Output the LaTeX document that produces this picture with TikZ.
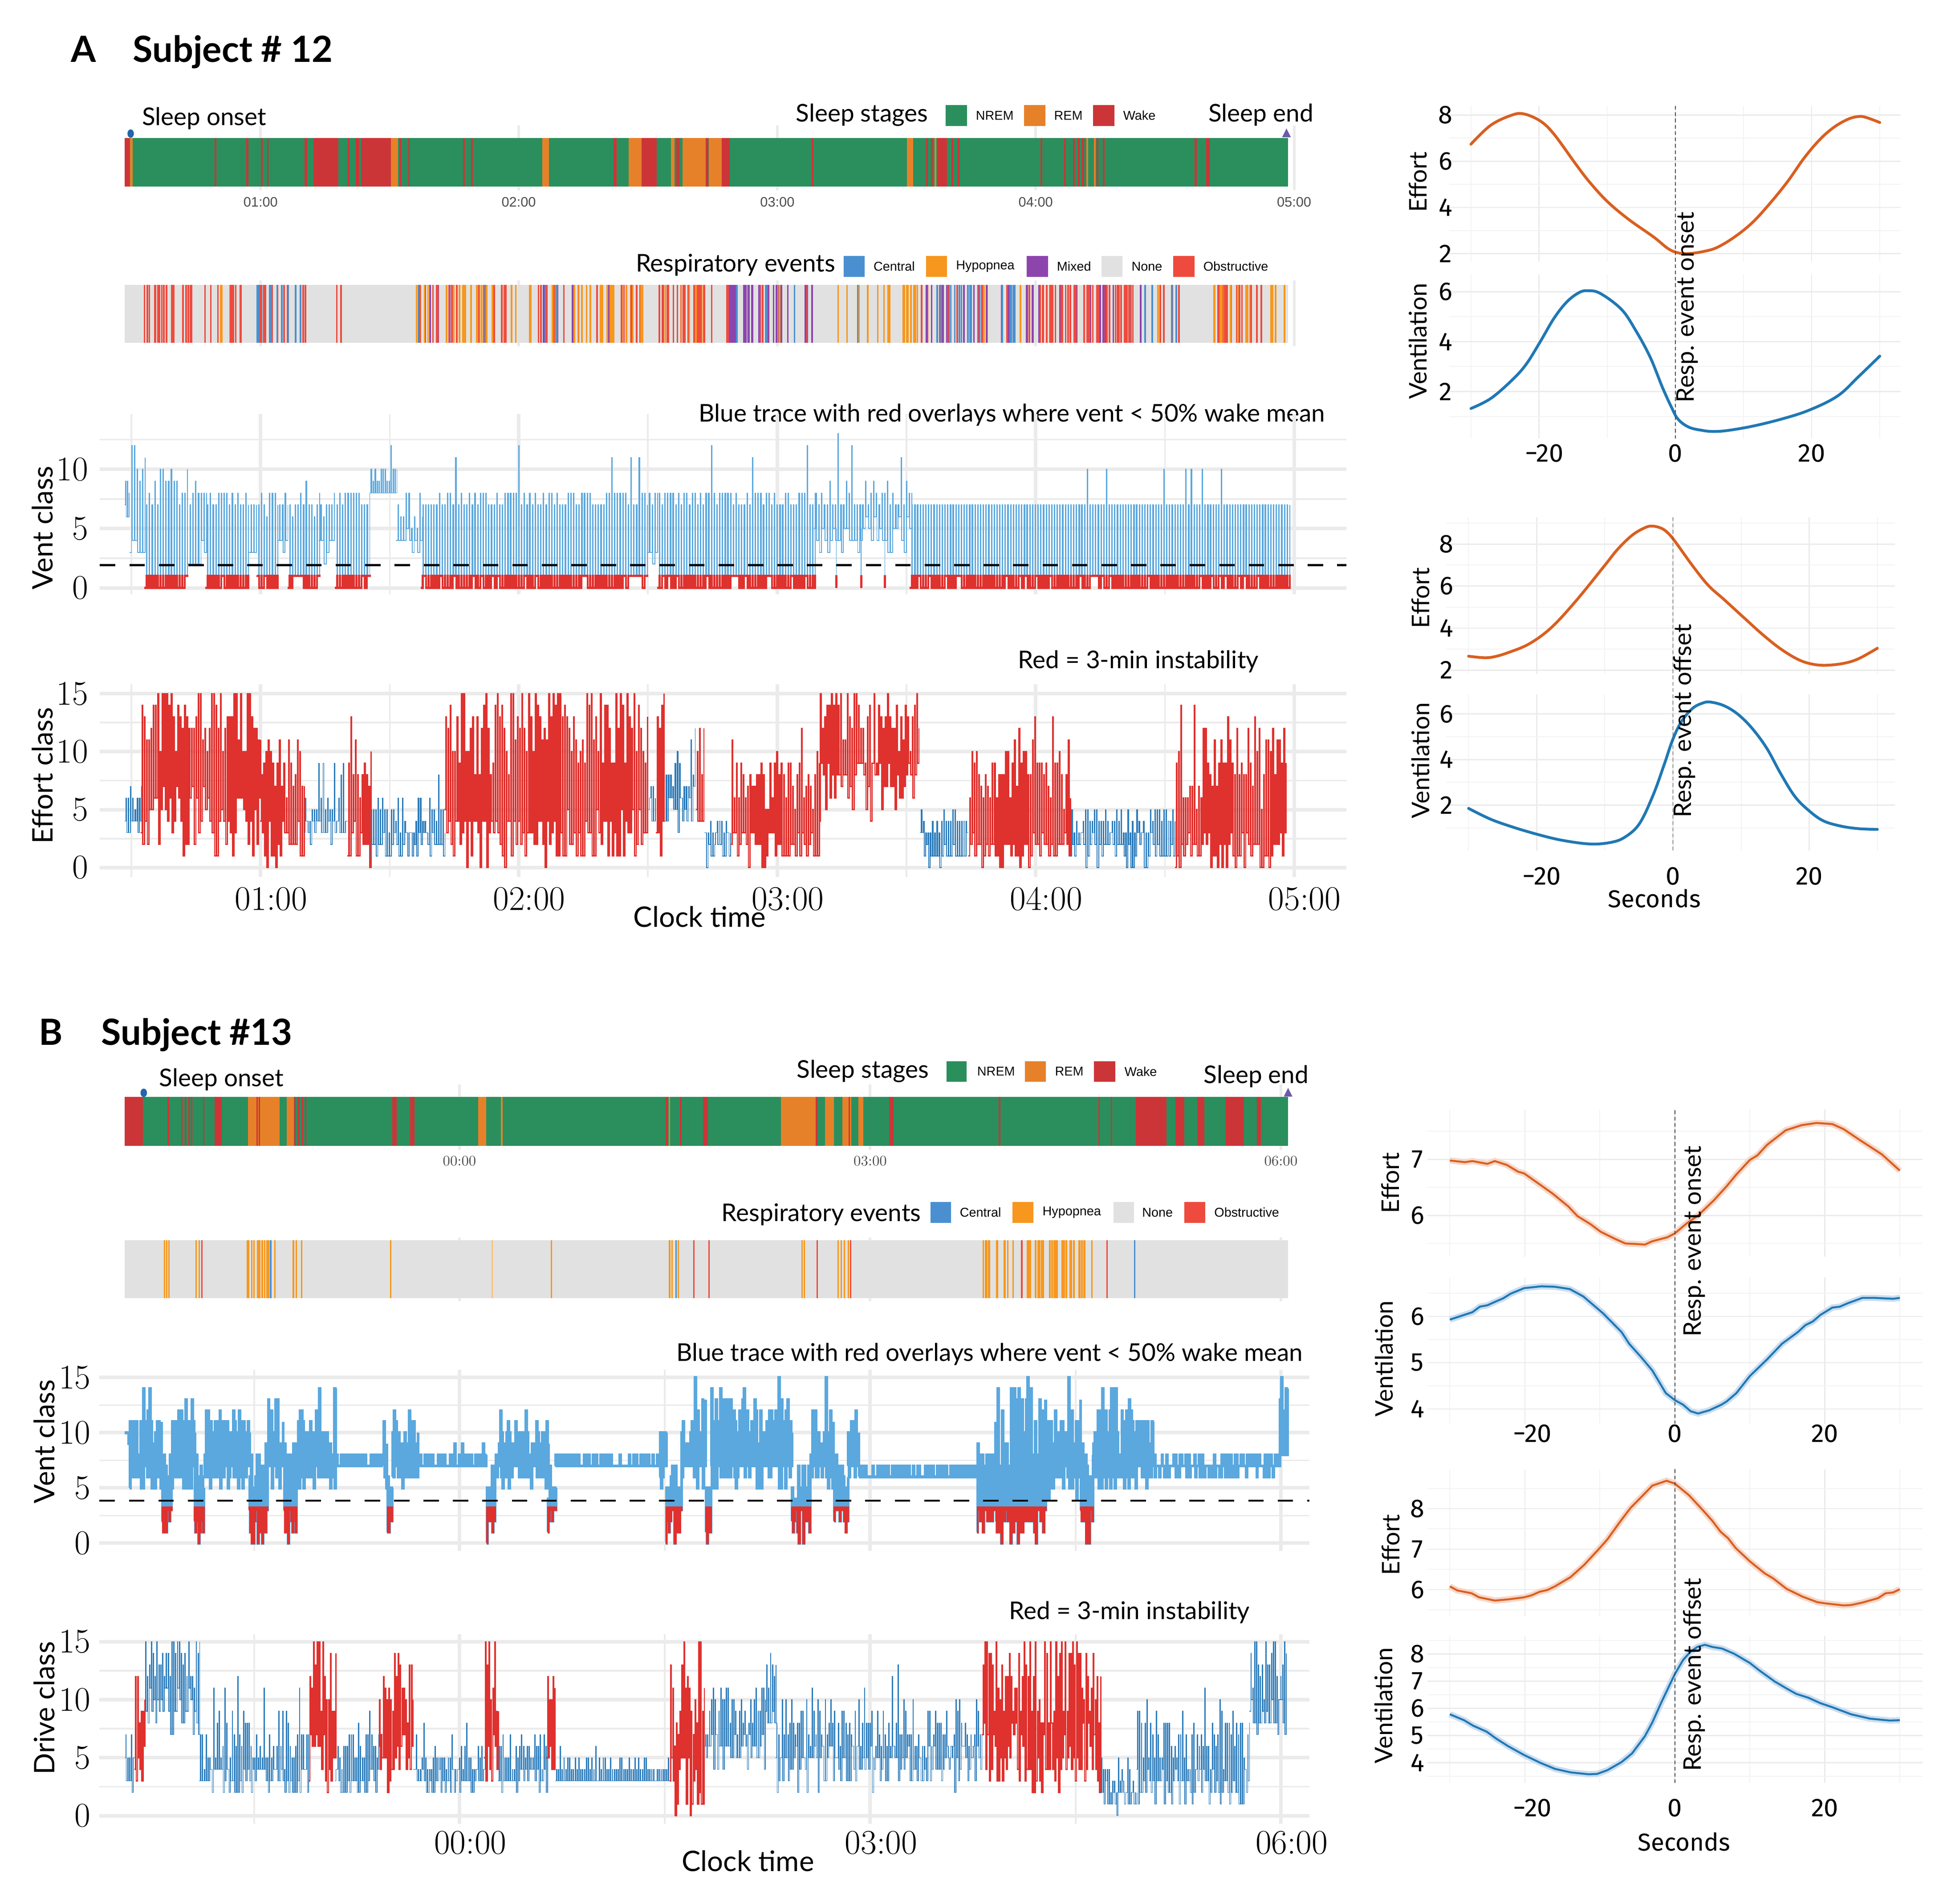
\documentclass[tikz,border=0pt]{standalone}
\usepackage{fontspec}
\newfontfamily\lato{Lato}
\newfontfamily\fira{Fira Sans}
\newfontfamily\libs{Liberation Sans}
\definecolor{nrem}{HTML}{2A8F5D}
\definecolor{rem}{HTML}{E6812A}
\definecolor{wake}{HTML}{CC3538}
\definecolor{cen}{HTML}{4A90D0}
\definecolor{hyp}{HTML}{F7971E}
\definecolor{mix}{HTML}{8E44AD}
\definecolor{nonec}{HTML}{E0E1E0}
\definecolor{obs}{HTML}{EE4B3E}
\definecolor{vblue}{HTML}{5AA8DE}
\definecolor{tblue}{HTML}{2B7BBA}
\definecolor{tred}{HTML}{DF312E}
\definecolor{corange}{HTML}{D95F20}
\definecolor{cblue}{HTML}{1F78B4}
\definecolor{ribo}{HTML}{F6D7C8}
\definecolor{ribb}{HTML}{CADDF0}
\definecolor{gridc}{HTML}{EBEBEB}
\definecolor{gridm}{HTML}{F3F3F3}
\definecolor{endc}{HTML}{6B5AA8}
\definecolor{onc}{HTML}{2166AC}

\tikzset{
  annot/.style={font=\lato\fontsize{16.6}{18}\selectfont, inner sep=0pt},
  axtitle/.style={font=\lato\fontsize{19.2}{20}\selectfont, inner sep=0pt},
  ticklab/.style={font=\fontsize{23.5}{24}\selectfont, inner sep=0pt},
  legtext/.style={font=\libs\fontsize{8.7}{9}\selectfont, inner sep=0pt, anchor=west},
  bartickA/.style={font=\libs\fontsize{9.3}{10}\selectfont, text=black!70, inner sep=0pt},
  bartickB/.style={font=\fontsize{9.9}{10}\selectfont, text=black!70, inner sep=0pt},
  rtick/.style={font=\fira\fontsize{17.5}{18}\selectfont, inner sep=0pt},
  rtitle/.style={font=\lato\fontsize{16.5}{17}\selectfont, inner sep=0pt, rotate=90},
  ptitle/.style={font=\lato\bfseries\fontsize{24.5}{26}\selectfont, inner sep=0pt, anchor=base west},
  gmaj/.style={draw=gridc, line width=2.4pt},
  gmin/.style={draw=gridc, line width=1.1pt},
  bgrid/.style={draw=gridc, line width=1.8pt},
  rgmaj/.style={draw=gridc, line width=0.8pt},
  rgmin/.style={draw=gridm, line width=0.6pt},
  thresh/.style={draw=black, line width=1.3pt, dash pattern=on 10.5pt off 9.5pt},
  vdash/.style={draw=black!70, line width=0.5pt, dash pattern=on 2.5pt off 1.8pt},
  oline/.style={draw=corange, line width=1.9pt, line join=round, line cap=round},
  bline/.style={draw=cblue, line width=1.9pt, line join=round, line cap=round},
  orib/.style={draw=corange, line width=1.3pt, line join=round, preaction={draw=ribo, line width=4.2pt}},
  brib/.style={draw=cblue, line width=1.3pt, line join=round, preaction={draw=ribb, line width=4.2pt}},
  tb/.style={draw=tblue, line width=0.5pt},
  tr/.style={draw=tred, line width=0.85pt},
  db/.style={draw=tblue, line width=0.45pt},
  dr/.style={draw=tred, line width=0.8pt},
}
\def\spk{0.88}
\def\hold{0.5}
% #1 style, #2 x1, #3 x2, #4 period, #5 lo1, #6 lo2, #7 hi1, #8 hi2, #9 spike extra
% each period: low value held for (period-\hold), then high value held for \hold
\newcommand\mytrace[9]{%
  \pgfmathtruncatemacro\trN{2*floor((#3-#2)/#4)+1}%
  \pgfmathtruncatemacro\trM{\trN+1}%
  \draw[#1] plot[const plot, domain=0:\trN, samples=\trM, variable=\tk]
    ({#2+floor(round(\tk)/2)*#4+mod(round(\tk),2)*(#4-\hold)}, {min(15,round(mod(round(\tk),2)==0 ? (#5+rnd*(#6-#5)) : (#7+rnd*(#8-#7)+(rnd>\spk)*#9)))});%
}
% #1 x1 #2 x2 #3 count #4 pa #5 pb #6 pc #7 y1 #8 y2
\newcommand\mystripes[8]{%
  \foreach \k in {1,...,#3}{%
    \pgfmathsetmacro\sxv{#1+rnd*(#2-#1)}%
    \pgfmathsetmacro\scv{rnd}%
    \ifdim\scv pt<#4pt \def\scol{cen}\else\ifdim\scv pt<#5pt \def\scol{hyp}\else\ifdim\scv pt<#6pt \def\scol{mix}\else\def\scol{obs}\fi\fi\fi
    \fill[\scol] (\sxv,#7) rectangle ++(1.3,#8-#7);
  }%
}
\newcommand\ventA[1]{%
\def\spk{0.9}\def\hold{0.5}%
\mytrace{#1}{100}{104}{1.4}{6}{8}{7}{9}{0}%
\mytrace{#1}{104}{116}{2.2}{2.5}{4}{9}{12}{2}%
\mytrace{#1}{116}{151}{2.2}{0}{0.6}{7}{10.4}{2.5}%
\mytrace{#1}{151}{165}{2.2}{2}{4}{6.5}{9}{1}%
\mytrace{#1}{165}{200}{2.2}{0}{0.6}{6.5}{8.4}{1}%
\mytrace{#1}{200}{206}{2.2}{2}{4}{6}{8}{0}%
\mytrace{#1}{206}{223}{2.2}{0}{0.6}{6}{8.4}{0}%
\mytrace{#1}{223}{231}{2.2}{2}{4}{6}{8}{0}%
\mytrace{#1}{231}{256}{2.2}{0}{0.6}{6}{8.4}{1}%
\mytrace{#1}{256}{269}{2.2}{2}{4}{6}{8}{0}%
\mytrace{#1}{269}{297}{2.2}{0}{0.6}{6}{8.4}{0}%
\mytrace{#1}{297}{318}{1.6}{7.5}{8.5}{8.6}{10.4}{2}%
\mytrace{#1}{318}{338}{2.2}{3}{5}{5}{8}{1}%
\def\spk{0.96}%
\mytrace{#1}{338}{520}{2.2}{0}{0.6}{6.5}{8.4}{4}%
\mytrace{#1}{520}{528}{2.2}{2}{4}{6}{8}{0}%
\mytrace{#1}{528}{654}{2.2}{0}{0.6}{6.5}{8.4}{4}%
\def\spk{0.9}%
\mytrace{#1}{654}{731}{2.2}{3}{6}{6.5}{9}{4}%
\def\spk{0.97}%
\mytrace{#1}{731}{1035}{2.2}{0}{0.6}{6.5}{7.4}{3}%
\def\spk{0.88}%
}
\newcommand\ventB[1]{%
\def\hold{0.6}%
\mytrace{#1}{100}{104}{1.2}{9}{11}{9}{11}{0}%
\mytrace{#1}{104}{130}{1.2}{5}{7.5}{8}{12}{3}%
\mytrace{#1}{130}{138}{1.2}{1}{3.4}{5}{8}{0}%
\mytrace{#1}{138}{156}{1.2}{5}{7.5}{8}{12}{3}%
\mytrace{#1}{156}{164}{1.2}{0}{3}{5}{8}{0}%
\mytrace{#1}{164}{200}{1.2}{5}{7.5}{8}{12}{3}%
\mytrace{#1}{200}{215}{1.2}{0}{3.4}{5}{9}{0}%
\mytrace{#1}{215}{228}{1.2}{5}{7.5}{8}{13}{3}%
\mytrace{#1}{228}{238}{1.2}{0}{3.4}{5}{9}{0}%
\mytrace{#1}{238}{270}{1.2}{5}{7.5}{8}{12}{3}%
\mytrace{#1}{270}{308}{1.2}{6.5}{7.4}{6.6}{8.4}{0}%
\mytrace{#1}{308}{311}{1.2}{5}{7}{8}{11}{0}%
\mytrace{#1}{311}{315}{1.2}{1}{2}{4}{6}{0}%
\mytrace{#1}{315}{336}{1.2}{5}{7}{8}{11}{2}%
\mytrace{#1}{336}{391}{1.2}{6.5}{7.4}{6.6}{8.4}{1}%
\mytrace{#1}{391}{398}{1.2}{0}{3.4}{4}{7}{0}%
\mytrace{#1}{398}{440}{1.2}{5}{7}{7.5}{11}{2}%
\mytrace{#1}{440}{446}{1.2}{1}{3.4}{4}{7}{0}%
\mytrace{#1}{446}{530}{1.2}{6.5}{7.4}{6.6}{8.4}{0}%
\mytrace{#1}{530}{535}{1.2}{5}{7}{8}{11}{0}%
\mytrace{#1}{535}{547}{1.2}{0}{3.4}{4}{8}{0}%
\mytrace{#1}{547}{567}{1.2}{5}{7.5}{8}{13}{3}%
\mytrace{#1}{567}{571}{1.2}{0}{1}{4}{6}{0}%
\mytrace{#1}{571}{636}{1.2}{5}{7.5}{8}{13}{3}%
\mytrace{#1}{636}{651}{1.2}{0}{3.4}{4}{8}{0}%
\mytrace{#1}{651}{670}{1.2}{5}{7.5}{8}{13}{3}%
\mytrace{#1}{670}{681}{1.2}{1}{3.4}{4}{8}{0}%
\mytrace{#1}{681}{690}{1.2}{5}{7.5}{8}{12}{2}%
\mytrace{#1}{690}{785}{1.2}{5.8}{6.4}{6}{7.2}{0}%
\mytrace{#1}{785}{800}{1.2}{0}{3.4}{5}{9}{2}%
\mytrace{#1}{800}{840}{1.2}{0}{3.4}{6}{14}{2}%
\mytrace{#1}{840}{868}{1.2}{4}{7}{8}{13}{3}%
\mytrace{#1}{868}{878}{1.2}{0}{3.4}{5}{9}{0}%
\mytrace{#1}{878}{927}{1.2}{5}{7.5}{8}{12}{3}%
\mytrace{#1}{927}{1028}{1.2}{6}{7.4}{6.6}{8.4}{0}%
\mytrace{#1}{1028}{1035}{1.2}{8}{9}{11}{15}{0}%
}

\begin{document}
\begin{tikzpicture}[x=0.03cm,y=-0.03cm]
\useasboundingbox (0,0) rectangle (1552,1514.8);
\fill[white] (0,0) rectangle (1552,1514.8);

%================ PANEL A (left) =================
\begin{scope}[xscale=0.99, yscale=0.988]
\node[ptitle] (labA) at (56.7,49.9) {A};
\node[ptitle] (subA) at (106.6,49.9) {Subject \# 12};

\foreach \xx in {209.4,416.8,624.6,832.2,1039.8} \draw[bgrid] (\xx,101) -- (\xx,153);
\fill[nrem] (100,111.3) rectangle (1035,150.1);
\foreach \a/\b/\c in {100/104/wake, 104.5/106.5/rem, 172.5/174/wake, 198/199.5/wake, 209.5/211/wake, 214.5/215.8/wake, 244.6/246.7/wake, 252/272/wake, 279.5/281/wake, 286/288.7/wake, 290/314/wake, 314/320/rem, 321/322.2/wake, 328/329.3/wake, 372/373.5/wake, 378.5/380/wake, 435.7/441/rem, 493/495.5/wake, 505/515.5/rem, 515.5/527.5/wake, 539/542/rem, 543.3/546/wake, 548.5/567/rem, 567/569/wake, 569.5/580/rem, 580/586.5/wake, 652/653.5/wake, 728.6/733.8/rem, 744/745.5/wake, 748/749.4/wake, 751/752.5/rem, 753/761/wake, 764.5/766/wake, 769.5/771/wake, 836/837.5/wake, 855/856.5/wake, 862/863.5/wake, 866/867.5/wake, 869.5/871/wake, 873/874.5/rem, 879/880.5/rem, 881/882.5/wake, 886/887.5/wake, 960/961.5/wake, 969/972/wake}
  \fill[\c] (\a,111.3) rectangle (\b,150.1);
\fill[onc] (105,107.6) ellipse [x radius=2.6, y radius=3.4];
\fill[endc] (1030.2,110.5) -- (1037.2,110.5) -- (1033.7,103.5) -- cycle;
\node[annot, anchor=base west] (onA) at (113.9,100.8) {Sleep onset};
\node[annot, anchor=base west] (ssA) at (639.3,98.2) {Sleep stages};
\node[annot, anchor=base west] (endA) at (970.8,98.2) {Sleep end};
\fill[nrem] (760,84.6) rectangle (777,101.5);
\fill[rem] (822.9,84.6) rectangle (840,101.5);
\fill[wake] (878.3,84.6) rectangle (895.4,101.5);
\node[legtext] (lnA) at (783.9,93) {NREM};
\node[legtext] (lrA) at (846.8,93) {REM};
\node[legtext] (lwA) at (902.3,93) {Wake};
\node[bartickA] (bt1) at (209.4,162.7) {01:00};
\node[bartickA] (bt2) at (416.8,162.7) {02:00};
\node[bartickA] (bt3) at (624.6,162.7) {03:00};
\node[bartickA] (bt4) at (832.2,162.7) {04:00};
\node[bartickA] (bt5) at (1039.8,162.7) {05:00};

\foreach \xx in {209.4,416.8,624.6,832.2,1039.8} \draw[bgrid] (\xx,226) -- (\xx,279);
\fill[nonec] (100,229.4) rectangle (1035,276.1);
\pgfmathsetseed{7}
\mystripes{113}{154}{22}{0}{0.1}{0.1}{229.4}{276.1}
\mystripes{163}{196}{14}{0.05}{0.3}{0.3}{229.4}{276.1}
\mystripes{206}{254}{24}{0.45}{0.45}{0.5}{229.4}{276.1}
\mystripes{269}{274}{2}{0}{0}{0}{229.4}{276.1}
\mystripes{334}{420}{45}{0.05}{0.6}{0.7}{229.4}{276.1}
\mystripes{420}{517}{50}{0.05}{0.65}{0.75}{229.4}{276.1}
\mystripes{527}{575}{30}{0}{0.3}{0.32}{229.4}{276.1}
\mystripes{577}{654}{45}{0.15}{0.2}{0.85}{229.4}{276.1}
\mystripes{665}{720}{10}{0.05}{0.9}{0.9}{229.4}{276.1}
\mystripes{725}{737}{8}{0}{1}{1}{229.4}{276.1}
\mystripes{739}{830}{55}{0.3}{0.35}{0.7}{229.4}{276.1}
\mystripes{830}{922}{55}{0.05}{0.1}{0.25}{229.4}{276.1}
\mystripes{925}{960}{8}{0.4}{0.8}{0.8}{229.4}{276.1}
\mystripes{968}{1013}{28}{0}{0.45}{0.45}{229.4}{276.1}
\mystripes{1015}{1033}{5}{0}{0.9}{0.9}{229.4}{276.1}
\node[annot, anchor=base west] (reA) at (510.7,218.9) {Respiratory events};
\fill[cen] (677.8,206) rectangle (694.9,222.9);
\fill[hyp] (744,206) rectangle (761,222.9);
\fill[mix] (825,206) rectangle (842,222.9);
\fill[nonec] (885,206) rectangle (902,222.9);
\fill[obs] (942.7,206) rectangle (959.8,222.9);
\node[legtext] (lcA) at (701.7,214.5) {Central};
\node[legtext] (lhA) at (768,214.5) {Hypopnea};
\node[legtext] (lmA) at (849,214.5) {Mixed};
\node[legtext] (loA) at (909,214.5) {None};
\node[legtext] (lbA) at (966.7,214.5) {Obstructive};

\node[annot, anchor=base east] (btA) at (1065,339.6) {Blue trace with red overlays where vent < 50\% wake mean};
\begin{scope}[shift={(0,473.4)}, y=0.2865cm]
  \foreach \vv in {0,5,10} \draw[gmaj] (80.3,\vv) -- (1082,\vv);
  \foreach \vv in {2.5,7.5,12.5} \draw[gmin] (80.3,\vv) -- (1082,\vv);
  \foreach \xx in {209.4,416.8,624.6,832.2,1039.8} \draw[gmaj] (\xx,-0.55) -- (\xx,14.67);
  \foreach \xx in {105.6,313.2,520.6,728.4,936} \draw[gmin] (\xx,-0.55) -- (\xx,14.67);
  \pgfmathsetseed{101}\ventA{vblue, line width=0.55pt}
  \draw[vblue, line width=0.55pt] (672,5) -- (672,0) (692,5) -- (692,0) (711,5) -- (711,0);
  \begin{scope}
    \clip (80,-1) rectangle (1082,1.08);
    \pgfmathsetseed{101}\ventA{tred, line width=1.3pt}
    \draw[tred, line width=1.4pt] (672,1.08) -- (672,0) (692,1.08) -- (692,0) (711,1.08) -- (711,0);
  \end{scope}
  \draw[thresh] (80.3,1.92) -- (1082,1.92);
\end{scope}
\node[ticklab, anchor=east] (yA10) at (71,377.9) {10};
\node[ticklab, anchor=east] (yA5) at (71,425.6) {5};
\node[ticklab, anchor=east] (yA0) at (71,473.4) {0};
\node[axtitle, rotate=90] (vcA) at (34.1,425) {Vent class};

\node[annot, anchor=base east] (riA) at (1011.6,538.4) {Red = 3-min instability};
\begin{scope}[shift={(0,698.6)}, y=0.2802cm]
  \foreach \vv in {0,5,10,15} \draw[gmaj] (80.3,\vv) -- (1082,\vv);
  \foreach \vv in {2.5,7.5,12.5} \draw[gmin] (80.3,\vv) -- (1082,\vv);
  \foreach \xx in {209.4,416.8,624.6,832.2,1039.8} \draw[gmaj] (\xx,-0.8) -- (\xx,15.8);
  \foreach \xx in {105.6,313.2,520.6,728.4,936} \draw[gmin] (\xx,-0.8) -- (\xx,15.8);
  \pgfmathsetseed{202}\def\hold{0.6}
  \mytrace{tb}{100}{113}{1.8}{3}{5}{5}{7}{0}
  \mytrace{tr}{113}{209}{1.8}{1}{7}{10}{16}{3}
  \mytrace{tr}{209}{244}{1.8}{0}{5}{6}{11}{3}
  \mytrace{tb}{244}{279}{1.8}{2}{4}{3.5}{6.5}{3}
  \mytrace{tr}{279}{297}{1.8}{0}{4}{6}{11}{2}
  \mytrace{tb}{297}{357}{1.8}{1}{3.5}{3}{6}{4}
  \mytrace{tr}{357}{520}{1.8}{0}{5}{8}{16}{3}
  \mytrace{tb}{520}{527}{1.8}{3}{6}{5}{9}{0}
  \mytrace{tr}{527}{534}{1.8}{1}{5}{10}{16}{0}
  \mytrace{tb}{534}{559}{1.8}{3}{7}{6}{10}{3}
  \mytrace{tr}{559}{566}{1.8}{2}{5}{8}{12}{0}
  \mytrace{tb}{566}{587}{1.8}{0}{3}{2}{5}{0}
  \mytrace{tr}{587}{658}{1.8}{0}{3}{5}{10}{3}
  \mytrace{tr}{658}{739}{1.8}{4}{9}{9}{15}{3}
  \mytrace{tb}{739}{778}{1.8}{0}{3}{3}{5.5}{0}
  \mytrace{tr}{778}{860}{1.8}{0}{3}{5}{11}{2.5}
  \mytrace{tb}{860}{944}{1.8}{0}{3}{3}{5.5}{0}
  \mytrace{tr}{944}{1033}{1.8}{0}{3}{5}{13}{4}
\end{scope}
\node[ticklab, anchor=east] (yE15) at (71,558.5) {15};
\node[ticklab, anchor=east] (yE10) at (71,605.2) {10};
\node[ticklab, anchor=east] (yE5) at (71,651.9) {5};
\node[ticklab, anchor=east] (yE0) at (71,698.6) {0};
\node[axtitle, rotate=90] (ecA) at (34.1,624.6) {Effort class};
\node[ticklab, anchor=base] (xA1) at (217.8,732.8) {01:00};
\node[ticklab, anchor=base] (xA2) at (425.2,732.8) {02:00};
\node[ticklab, anchor=base] (xA3) at (633,732.8) {03:00};
\node[ticklab, anchor=base] (xA4) at (840.6,732.8) {04:00};
\node[ticklab, anchor=base] (xA5) at (1048.2,732.8) {05:00};
\node[axtitle, anchor=base] (ctA) at (562.2,746.4) {Clock time};
\end{scope}

%================ PANEL A right =================
\begin{scope}[shift={(-3,-4)}]
\begin{scope}[shift={(1335.7,242.4)}, x=0.1626cm, y=0.5505cm]
  \foreach \sv in {-30,-10,10,30} \draw[rgmin] (\sv,1.66) -- (\sv,8.40);
  \foreach \sv in {-20,0,20} \draw[rgmaj] (\sv,1.66) -- (\sv,8.40);
  \foreach \vv in {3,5,7} \draw[rgmin] (-33.2,\vv) -- (33.1,\vv);
  \foreach \vv in {2,4,6,8} \draw[rgmaj] (-33.2,\vv) -- (33.1,\vv);
  \draw[oline] plot[smooth, tension=0.6] coordinates {(-30,6.74) (-27.1,7.56) (-24,8.0) (-22.2,8.05) (-19.8,7.74) (-17.8,7.17) (-14.6,5.87) (-12.6,5.1) (-10,4.26) (-6.9,3.49) (-3.2,2.72) (-1.1,2.22) (0.4,2.03) (2,2.0) (4,2.08) (6.1,2.26) (8.7,2.72) (11.3,3.34) (13.9,4.18) (16.5,5.13) (18.9,6.14) (21.2,6.94) (23.3,7.48) (25.4,7.83) (26.9,7.94) (28,7.9) (30,7.68)};
\end{scope}
\begin{scope}[shift={(1335.7,355.2)}, x=0.1626cm, y=0.5955cm]
  \foreach \sv in {-30,-10,10,30} \draw[rgmin] (\sv,0.11) -- (\sv,6.69);
  \foreach \sv in {-20,0,20} \draw[rgmaj] (\sv,0.11) -- (\sv,6.69);
  \foreach \vv in {1,3,5} \draw[rgmin] (-33.2,\vv) -- (33.1,\vv);
  \foreach \vv in {2,4,6} \draw[rgmaj] (-33.2,\vv) -- (33.1,\vv);
  \draw[bline] plot[smooth, tension=0.6] coordinates {(-30,1.32) (-27.1,1.72) (-24,2.45) (-21.9,3.09) (-19.8,4.01) (-17.8,4.94) (-15.9,5.6) (-14.1,5.97) (-12.8,6.04) (-11,5.93) (-7.9,5.29) (-5.8,4.44) (-3.7,3.38) (-1.9,2.17) (-0.6,1.39) (0.4,0.89) (2,0.57) (4,0.44) (5.6,0.40) (7.7,0.44) (11.3,0.61) (15.5,0.89) (19.6,1.25) (23.8,1.82) (26.9,2.6) (30,3.42)};
\end{scope}
\draw[vdash] (1335.7,88.3) -- (1335.7,353);
\node[rtitle] (roA) at (1345,248.5) {Resp. event onset};
\node[rtick] (ra8) at (1152.8,95.6) {8};
\node[rtick] (ra6) at (1152.8,132.3) {6};
\node[rtick] (ra4) at (1152.8,169) {4};
\node[rtick] (ra2) at (1152.8,205.7) {2};
\node[rtick] (rv6) at (1152.8,236.1) {6};
\node[rtick] (rv4) at (1152.8,275.8) {4};
\node[rtick] (rv2) at (1152.8,315.5) {2};
\node[rtitle] (reffA) at (1131,148.8) {Effort};
\node[rtitle] (rvenA) at (1131,275.5) {Ventilation};
\node[rtick] (rxa1) at (1231.5,364.5) {−20};
\node[rtick] (rxa2) at (1335.7,364.5) {0};
\node[rtick] (rxa3) at (1444.1,364.5) {20};

\begin{scope}[shift={(1333.8,570.5)}, x=0.1626cm, y=0.501cm]
  \foreach \sv in {-30,-10,10,30} \draw[rgmin] (\sv,1.81) -- (\sv,9.28);
  \foreach \sv in {-20,0,20} \draw[rgmaj] (\sv,1.81) -- (\sv,9.28);
  \foreach \vv in {3,5,7,9} \draw[rgmin] (-33.3,\vv) -- (32.6,\vv);
  \foreach \vv in {2,4,6,8} \draw[rgmaj] (-33.3,\vv) -- (32.6,\vv);
  \draw[oline] plot[smooth, tension=0.6] coordinates {(-30,2.66) (-27.8,2.59) (-26.3,2.63) (-24.2,2.83) (-21.1,3.25) (-17.9,4.01) (-14.3,5.27) (-10.1,6.95) (-8.1,7.76) (-6,8.42) (-4.2,8.77) (-3.1,8.86) (-1.8,8.77) (-0.8,8.55) (0.3,8.13) (2.9,6.96) (5.2,6.03) (7.5,5.36) (10.6,4.44) (13.2,3.68) (15.8,3.01) (18.4,2.5) (20.5,2.28) (22.6,2.23) (25.2,2.33) (27.3,2.55) (30,3.04)};
\end{scope}
\begin{scope}[shift={(1333.8,680.9)}, x=0.1626cm, y=0.5445cm]
  \foreach \sv in {-30,-10,10,30} \draw[rgmin] (\sv,0) -- (\sv,6.86);
  \foreach \sv in {-20,0,20} \draw[rgmaj] (\sv,0) -- (\sv,6.86);
  \foreach \vv in {1,3,5} \draw[rgmin] (-33.3,\vv) -- (32.6,\vv);
  \foreach \vv in {2,4,6} \draw[rgmaj] (-33.3,\vv) -- (32.6,\vv);
  \draw[bline] plot[smooth, tension=0.6] coordinates {(-30,1.86) (-26.8,1.39) (-23.6,1.05) (-20,0.73) (-16.4,0.47) (-12.2,0.3) (-9.1,0.37) (-7,0.61) (-4.9,1.2) (-2.9,2.45) (-1.3,3.77) (0,4.9) (1.3,5.69) (2.9,6.25) (4.4,6.48) (5.5,6.52) (7.5,6.36) (9.6,5.97) (11.7,5.34) (13.8,4.48) (15.8,3.39) (17.9,2.38) (20,1.75) (22.1,1.31) (24.7,1.08) (27.3,0.97) (30,0.94)};
\end{scope}
\draw[vdash] (1333.8,415.5) -- (1333.8,681);
\node[rtitle] (rfA) at (1343,577.5) {Resp. event offset};
\node[rtick] (rb8) at (1153.6,436.9) {8};
\node[rtick] (rb6) at (1153.6,470.3) {6};
\node[rtick] (rb4) at (1153.6,503.7) {4};
\node[rtick] (rb2) at (1153.6,537.1) {2};
\node[rtick] (rw6) at (1153.6,572) {6};
\node[rtick] (rw4) at (1153.6,608.3) {4};
\node[rtick] (rw2) at (1153.6,644.6) {2};
\node[rtitle] (reffA2) at (1133,479.7) {Effort};
\node[rtitle] (rvenA2) at (1133,609) {Ventilation};
\node[rtick] (rxb1) at (1229.5,701) {−20};
\node[rtick] (rxb2) at (1333.8,701) {0};
\node[rtick] (rxb3) at (1442.2,701) {20};
\node[rtick, font=\fira\fontsize{16.6}{17}\selectfont, anchor=base] (secA) at (1319,726) {Seconds};
\end{scope}

%================ PANEL B (left) =================
\begin{scope}[shift={(0,806.5)}, xscale=0.99, yscale=0.988, shift={(0,-806.5)}]
\node[ptitle] (labB) at (31,831.6) {B};
\node[ptitle] (subB) at (81.2,831.6) {Subject \#13};

\foreach \xx in {369.2,699.2,1029.2} \draw[bgrid] (\xx,863.5) -- (\xx,916);
\fill[nrem] (100,873.6) rectangle (1035,912.8);
\foreach \a/\b/\c in {100/115/wake, 134.5/135.8/wake, 145.5/146.8/wake, 148.5/149.6/wake, 151.5/152.6/wake, 153.5/154.6/wake, 163/164.2/wake, 172.5/178/wake, 199.4/224.5/rem, 206/207.2/wake, 208/209/wake, 230.5/236/rem, 236.5/237.6/wake, 239.5/240.6/wake, 242.5/243.6/wake, 245/246.2/wake, 315/318.6/wake, 329.5/333.2/wake, 384.3/390.7/rem, 402.5/403.8/rem, 535/536.7/wake, 537.5/538.5/rem, 546.3/547.7/wake, 565/568.7/wake, 627.5/655.5/rem, 655.5/657/wake, 663/670/rem, 677/684/rem, 682/683/wake, 689.7/693.5/rem, 714.5/718/wake, 802.5/803.8/wake, 882.5/883.8/wake, 892.5/893.8/wake, 912.6/937.3/wake, 944.4/951.5/wake, 962/967.7/wake, 984.7/999.5/wake, 1010/1013/wake}
  \fill[\c] (\a,873.6) rectangle (\b,912.8);
\fill[onc] (115.5,870.2) ellipse [x radius=2.6, y radius=3.4];
\fill[endc] (1031.5,873.3) -- (1038.5,873.3) -- (1035,866.3) -- cycle;
\node[annot, anchor=base west] (onB) at (127.8,864.9) {Sleep onset};
\node[annot, anchor=base west] (ssB) at (640,858.4) {Sleep stages};
\node[annot, anchor=base west] (endB) at (967,862.4) {Sleep end};
\fill[nrem] (760.5,844.8) rectangle (776.7,861.3);
\fill[rem] (823.5,844.8) rectangle (840.4,861.3);
\fill[wake] (879,844.8) rectangle (896,861.3);
\node[legtext] (lnB) at (785,853) {NREM};
\node[legtext] (lrB) at (847.5,853) {REM};
\node[legtext] (lwB) at (903.4,853) {Wake};
\node[bartickB] (bu1) at (369.2,925.2) {00:00};
\node[bartickB] (bu2) at (699.2,925.2) {03:00};
\node[bartickB] (bu3) at (1029.2,925.2) {06:00};

\foreach \xx in {369.2,699.2,1029.2} \draw[bgrid] (\xx,986.8) -- (\xx,1037.9);
\fill[nonec] (100,989) rectangle (1035,1035.6);
\foreach \xx/\c in {131.6/hyp, 133.4/hyp, 135.2/hyp, 157/hyp, 159.4/hyp, 161.8/obs, 313.4/hyp, 395/hyp!60, 442.5/hyp, 537.5/hyp, 539.5/hyp, 542.8/cen, 544.5/hyp, 557/obs, 569.3/obs, 644/hyp, 645.8/hyp, 656/obs, 673/hyp, 675.5/hyp, 678/hyp, 681/hyp, 683/obs, 889/obs, 911/cen}
  \fill[\c] (\xx,989) rectangle ++(1.1,46.6);
\pgfmathsetseed{9}
\mystripes{194.5}{242}{16}{0.04}{0.95}{0.95}{989}{1035.6}
\mystripes{788.7}{877}{42}{0}{0.85}{0.85}{989}{1035.6}
\node[annot, anchor=base west] (reB) at (579.6,973.5) {Respiratory events};
\fill[cen] (747.7,958) rectangle (764,974.9);
\fill[hyp] (813.5,958) rectangle (830.5,974.9);
\fill[nonec] (894.8,958) rectangle (911,974.9);
\fill[obs] (951.5,958) rectangle (968.5,974.9);
\node[legtext] (lcB) at (771,966.5) {Central};
\node[legtext] (lhB) at (837.5,966.5) {Hypopnea};
\node[legtext] (loB) at (917.5,966.5) {None};
\node[legtext] (lbB) at (975.5,966.5) {Obstructive};

\node[annot, anchor=base east] (btB) at (1047,1086.3) {Blue trace with red overlays where vent < 50\% wake mean};
\begin{scope}[shift={(0,1232.8)}, y=0.2667cm]
  \foreach \vv in {0,5,10,15} \draw[gmaj] (79.9,\vv) -- (1052,\vv);
  \foreach \vv in {2.5,7.5,12.5} \draw[gmin] (79.9,\vv) -- (1052,\vv);
  \foreach \xx in {369.2,699.2,1029.2} \draw[gmaj] (\xx,-0.7) -- (\xx,15.7);
  \foreach \xx in {204.2,534.2,864.2} \draw[gmin] (\xx,-0.7) -- (\xx,15.7);
  \pgfmathsetseed{303}\ventB{vblue, line width=1.9pt}
  \begin{scope}
    \clip (80,-1) rectangle (1052,3.3);
    \pgfmathsetseed{303}\ventB{tred, line width=1.4pt}
  \end{scope}
  \draw[thresh] (79.9,3.85) -- (1052,3.85);
\end{scope}
\node[ticklab, anchor=east] (yB15) at (73,1099.5) {15};
\node[ticklab, anchor=east] (yB10) at (73,1143.9) {10};
\node[ticklab, anchor=east] (yB5) at (73,1188.4) {5};
\node[ticklab, anchor=east] (yB0) at (73,1232.8) {0};
\node[axtitle, rotate=90] (vcB) at (35.6,1151) {Vent class};

\node[annot, anchor=base east] (riB) at (1004.5,1294.2) {Red = 3-min instability};
\begin{scope}[shift={(0,1452.3)}, y=0.2802cm]
  \foreach \vv in {0,5,10,15} \draw[gmaj] (79.9,\vv) -- (1052,\vv);
  \foreach \vv in {2.5,7.5,12.5} \draw[gmin] (79.9,\vv) -- (1052,\vv);
  \foreach \xx in {369.2,699.2,1029.2} \draw[gmaj] (\xx,-0.72) -- (\xx,15.66);
  \foreach \xx in {204.2,534.2,864.2} \draw[gmin] (\xx,-0.72) -- (\xx,15.66);
  \pgfmathsetseed{404}\def\hold{0.5}
  \mytrace{db}{100}{108}{1.5}{2}{5}{4}{7}{0}
  \mytrace{dr}{108}{116}{1.5}{2}{7}{6}{12}{0}
  \mytrace{db}{116}{160}{1.5}{7}{11}{11}{16}{0}
  \mytrace{db}{160}{248}{1.5}{2}{4.5}{4}{9}{3}
  \mytrace{dr}{248}{269}{1.5}{2}{8}{8}{16}{0}
  \mytrace{db}{269}{304}{1.5}{2}{4}{4}{8}{2}
  \mytrace{dr}{304}{332}{1.5}{2}{7}{7}{14}{0}
  \mytrace{db}{332}{389}{1.5}{2}{4}{3.5}{6}{2}
  \mytrace{dr}{389}{400}{1.5}{2}{7}{8}{16}{0}
  \mytrace{db}{400}{439}{1.5}{2}{4}{4}{7}{1}
  \mytrace{dr}{439}{446}{1.5}{3}{6}{8}{13}{0}
  \mytrace{db}{446}{538}{1.5}{2.5}{3.5}{3.4}{5}{1}
  \mytrace{dr}{538}{566}{1.5}{0}{5}{6}{15}{3}
  \mytrace{db}{566}{615}{1.5}{4}{7}{7}{11}{2}
  \mytrace{db}{615}{623}{1.5}{6}{9}{11}{16}{0}
  \mytrace{db}{623}{789}{1.5}{2}{6}{5}{10}{3}
  \mytrace{dr}{789}{884}{1.5}{2}{8}{8}{16}{0}
  \mytrace{db}{884}{913}{1.5}{0}{3}{2}{5}{0}
  \mytrace{db}{913}{1004}{1.5}{1}{4}{4}{9}{2}
  \mytrace{db}{1004}{1033}{1.5}{7}{10}{10}{16}{0}
\end{scope}
\node[ticklab, anchor=east] (yD15) at (73,1312.2) {15};
\node[ticklab, anchor=east] (yD10) at (73,1358.9) {10};
\node[ticklab, anchor=east] (yD5) at (73,1405.6) {5};
\node[ticklab, anchor=east] (yD0) at (73,1452.3) {0};
\node[axtitle, rotate=90] (dcB) at (35.6,1365.6) {Drive class};
\node[ticklab, anchor=base] (xB1) at (377.9,1483) {00:00};
\node[ticklab, anchor=base] (xB2) at (707.9,1483) {03:00};
\node[ticklab, anchor=base] (xB3) at (1037.9,1483) {06:00};
\node[axtitle, anchor=base] (ctB) at (601,1497) {Clock time};
\end{scope}

%================ PANEL B right =================
\begin{scope}[shift={(-3,-5)}]
\begin{scope}[shift={(1335.3,1239.6)}, x=0.17895cm, y=1.338cm]
  \foreach \sv in {-30,-10,10,30} \draw[rgmin] (\sv,5.26) -- (\sv,7.89);
  \foreach \sv in {-20,0,20} \draw[rgmaj] (\sv,5.26) -- (\sv,7.89);
  \foreach \vv in {5.5,6.5,7.5} \draw[rgmin] (-33,\vv) -- (33,\vv);
  \foreach \vv in {6,7} \draw[rgmaj] (-33,\vv) -- (33,\vv);
  \draw[orib] plot coordinates {(-30,6.98) (-28,6.95) (-27,6.97) (-25,6.92) (-24,6.97) (-22.4,6.9) (-20.9,6.78) (-20.1,6.75) (-18.3,6.58) (-16.3,6.39) (-14.2,6.16) (-13,5.99) (-11.2,5.84) (-9.9,5.71) (-8.1,5.59) (-6.6,5.5) (-5.1,5.49) (-4,5.48) (-3,5.54) (-1,5.61) (0,5.68) (1.6,5.86) (3.1,6) (5.2,6.27) (6.9,6.52) (8.2,6.73) (10,6.99) (11,7.07) (12.3,7.26) (14.8,7.52) (16.9,7.61) (18.9,7.65) (21,7.63) (22.5,7.54) (24.5,7.36) (27.6,7.09) (30,6.8)};
\end{scope}
\begin{scope}[shift={(1335.3,1273.1)}, x=0.17895cm, y=1.104cm]
  \foreach \sv in {-30,-10,10,30} \draw[rgmin] (\sv,3.68) -- (\sv,6.85);
  \foreach \sv in {-20,0,20} \draw[rgmaj] (\sv,3.68) -- (\sv,6.85);
  \foreach \vv in {4.5,5.5,6.5} \draw[rgmin] (-33,\vv) -- (33,\vv);
  \foreach \vv in {4,5,6} \draw[rgmaj] (-33,\vv) -- (33,\vv);
  \draw[brib] plot coordinates {(-30,5.93) (-27,6.09) (-26,6.21) (-25,6.24) (-23.9,6.32) (-22.9,6.39) (-21.9,6.49) (-20.1,6.61) (-17.8,6.65) (-16,6.64) (-14,6.59) (-12.2,6.43) (-9.6,6.07) (-7.1,5.66) (-6.1,5.41) (-4.5,5.12) (-3,4.83) (-1.2,4.34) (0,4.19) (1.1,4.09) (2.1,3.95) (3.1,3.9) (4.6,3.97) (6.2,4.09) (6.9,4.16) (8.2,4.34) (10,4.71) (12.3,5.07) (14.3,5.41) (16.4,5.66) (17.4,5.81) (18.4,5.89) (19.4,6.03) (21,6.19) (22,6.21) (23,6.28) (25,6.4) (26.6,6.4) (29.1,6.38) (30,6.4)};
\end{scope}
\draw[vdash] (1335.3,888.4) -- (1335.3,1137.7);
\node[rtitle] (roB) at (1350.8,992.5) {Resp. event onset};
\node[rtick] (rc7) at (1130.5,927.4) {7};
\node[rtick] (rc6) at (1130.5,972) {6};
\node[rtick] (rd6) at (1130.5,1052.3) {6};
\node[rtick] (rd5) at (1130.5,1089.1) {5};
\node[rtick] (rd4) at (1130.5,1125.9) {4};
\node[rtitle] (reffB) at (1109,946) {Effort};
\node[rtitle] (rvenB) at (1103.9,1086) {Ventilation};
\node[rtick] (rxc1) at (1222,1145.6) {−20};
\node[rtick] (rxc2) at (1335.3,1145.6) {0};
\node[rtick] (rxc3) at (1454.6,1145.6) {20};

\begin{scope}[shift={(1335.3,1462.9)}, x=0.17895cm, y=0.966cm]
  \foreach \sv in {-30,-10,10,30} \draw[rgmin] (\sv,5.34) -- (\sv,8.97);
  \foreach \sv in {-20,0,20} \draw[rgmaj] (\sv,5.34) -- (\sv,8.97);
  \foreach \vv in {5.5,6.5,7.5,8.5} \draw[rgmin] (-33,\vv) -- (33,\vv);
  \foreach \vv in {6,7,8} \draw[rgmaj] (-33,\vv) -- (33,\vv);
  \draw[orib] plot coordinates {(-30,6.08) (-29,5.98) (-27.1,5.91) (-26.1,5.81) (-24,5.73) (-22.2,5.76) (-20.1,5.81) (-19.1,5.86) (-18,5.95) (-17,5.99) (-16,6.08) (-13.9,6.31) (-12.1,6.61) (-10.2,6.99) (-9,7.24) (-7.3,7.68) (-5.9,8.02) (-4.2,8.34) (-3,8.57) (-1.1,8.69) (0,8.62) (1.9,8.33) (3.8,7.95) (5,7.7) (6.1,7.43) (7.1,7.27) (8.1,7.03) (10,6.7) (12,6.4) (13.1,6.28) (14.9,6.02) (17,5.83) (19,5.69) (20.1,5.66) (22.5,5.61) (23.5,5.62) (25,5.68) (27.1,5.79) (28.1,5.91) (29.1,5.93) (30,6.01)};
\end{scope}
\begin{scope}[shift={(1335.3,1493.7)}, x=0.17895cm, y=0.648cm]
  \foreach \sv in {-30,-10,10,30} \draw[rgmin] (\sv,3.26) -- (\sv,8.66);
  \foreach \sv in {-20,0,20} \draw[rgmaj] (\sv,3.26) -- (\sv,8.66);
  \foreach \vv in {3.5,4.5,5.5,6.5,7.5,8.5} \draw[rgmin] (-33,\vv) -- (33,\vv);
  \foreach \vv in {4,5,6,7,8} \draw[rgmaj] (-33,\vv) -- (33,\vv);
  \draw[brib] plot coordinates {(-30,5.78) (-28.1,5.56) (-26.9,5.36) (-25.1,5.14) (-23.8,4.88) (-22.2,4.6) (-20.1,4.28) (-18,4) (-16,3.77) (-13.9,3.64) (-11.5,3.57) (-10.4,3.58) (-9,3.72) (-7.1,4.02) (-5.7,4.34) (-4,4.97) (-3,5.48) (-1.8,6.22) (0,7.26) (1.1,7.78) (2.1,8.09) (3,8.26) (4,8.34) (5,8.26) (6.3,8.2) (7.9,8.01) (10,7.67) (11.2,7.41) (13.3,6.99) (14.9,6.73) (16.2,6.53) (17.8,6.39) (19.4,6.19) (21.1,6.03) (23.5,5.78) (26,5.62) (28.6,5.55) (30,5.56)};
\end{scope}
\draw[vdash] (1335.3,1173.9) -- (1335.3,1423.3);
\node[rtitle] (rfB) at (1350.6,1337.3) {Resp. event offset};
\node[rtick] (re8) at (1130.5,1205.3) {8};
\node[rtick] (re7) at (1130.5,1237.5) {7};
\node[rtick] (re6) at (1130.5,1269.7) {6};
\node[rtick] (rf8) at (1130.5,1320.9) {8};
\node[rtick] (rf7) at (1130.5,1342.5) {7};
\node[rtick] (rf6) at (1130.5,1364.1) {6};
\node[rtick] (rf5) at (1130.5,1385.7) {5};
\node[rtick] (rf4) at (1130.5,1407.3) {4};
\node[rtitle] (reffB2) at (1109.2,1234) {Effort};
\node[rtitle] (rvenB2) at (1103.6,1361.9) {Ventilation};
\node[rtick] (rxd1) at (1222,1443.3) {−20};
\node[rtick] (rxd2) at (1335.3,1443.3) {0};
\node[rtick] (rxd3) at (1454.6,1443.3) {20};
\node[rtick, font=\fira\fontsize{16.6}{17}\selectfont, anchor=base] (secB) at (1342.5,1477.4) {Seconds};
\end{scope}
\end{tikzpicture}
\end{document}
